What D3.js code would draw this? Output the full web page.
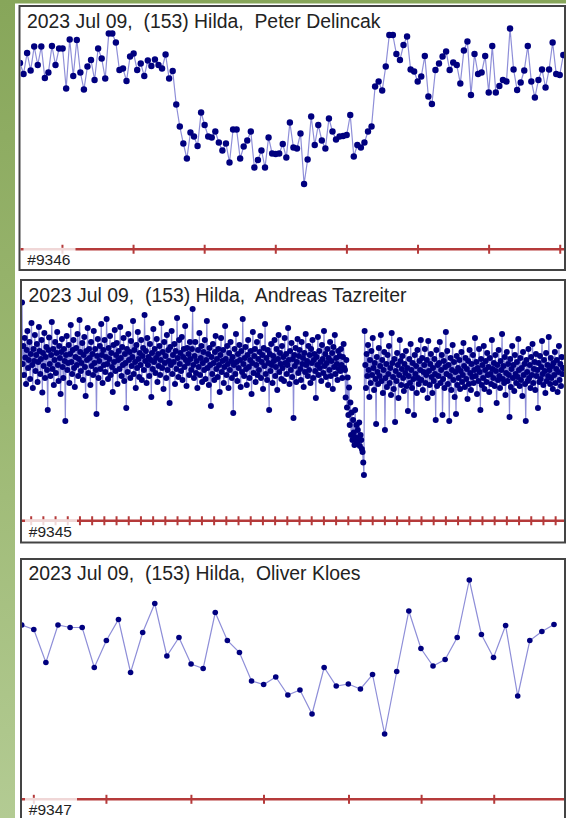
<!DOCTYPE html>
<html>
<head>
<meta charset="utf-8">
<script src="https://cdn.jsdelivr.net/npm/d3@7"></script>
<style>
  html, body { margin: 0; padding: 0; background: #fff; }
  svg { display: block; }
  text { white-space: pre; }
</style>
</head>
<body>
<svg id="chart" width="566" height="818"></svg>
<script>
// ---- Light-curve data (differential magnitude, mmag; larger = fainter) ----
const titles = [
  "2023 Jul 09,  (153) Hilda,  Peter Delincak",
  "2023 Jul 09,  (153) Hilda,  Andreas Tazreiter",
  "2023 Jul 09,  (153) Hilda,  Oliver Kloes"
];
const plotIds = ["#9346", "#9345", "#9347"];

const delincakMag = [
  86,108,66,101,53,90,53,116,105,52,90,57,57,137,39,112,40,105,139,93,
  80,120,57,77,117,27,27,45,100,97,122,73,67,100,87,112,81,92,79,90,
  97,69,117,102,169,213,247,277,225,233,252,185,210,233,235,223,245,261,247,285,
  219,219,277,253,241,223,295,280,261,295,235,267,268,267,248,275,205,255,257,227,
  328,279,193,250,210,241,257,197,223,239,233,232,230,190,273,250,255,245,223,213,
  133,123,141,93,30,30,68,80,50,33,99,103,123,113,72,153,168,100,87,73,
  63,100,85,90,127,61,43,150,68,108,105,72,145,52,145,132,120,123,17,99,
  140,125,101,52,123,155,120,99,135,99,45,108,110,70
];

const tazreiterMag = [
  // before the dip, first part
  25,148,112,170,96,135,188,120,82,156,140,104,178,128,66,150,196,118,142,90,
  162,130,108,184,144,74,122,168,138,100,205,126,152,86,176,134,114,160,240,120,
  95,148,172,130,64,158,118,190,140,104,166,126,84,150,182,112,136,208,124,98,
  154,176,118,142,262,130,92,160,146,110,186,128,70,144,168,120,100,156,194,134,
  116,150,88,172,138,60,124,162,146,106,180,130,94,154,212,122,140,76,166,118,
  136,190,104,152,128,170,82,146,118,160,248,132,98,176,142,112,158,68,130,186,
  120,150,100,164,134,58,148,178,116,138,92,170,126,154,204,110,144,80,162,130,
  106,188,140,122,158,74,136,172,114,150,96,182,128,146,236,118,164,88,140,124,
  176,102,152,134,62,168,120,144,196,110,156,84,138,174,126,150,100,180,132,116,
  160,50,142,122,186,96,150,134,172,108,140,214,126,158,78,144,118,166,136,98,
  184,128,152,112,170,140,66,156,124,198,104,146,132,176,90,160,120,142,226,114,
  150,82,168,130,144,108,188,122,158,56,136,174,100,148,126,162,94,180,134,118,
  154,72,140,192,116,146,128,170,104,138,
  // before the dip, second part
  160,118,38,150,176,132,104,166,142,196,120,154,86,170,136,112,184,146,124,160,
  100,178,140,62,156,128,190,116,150,232,134,168,108,146,180,124,92,158,138,174,
  118,150,204,130,96,164,142,120,186,154,72,138,170,112,148,196,126,160,104,142,
  176,134,246,150,118,168,88,144,182,128,156,110,140,194,122,164,58,148,172,136,
  114,158,190,130,100,154,176,140,122,208,146,84,166,132,118,184,150,104,170,138,
  160,124,92,176,144,130,198,116,152,68,168,136,180,120,146,240,128,162,108,150,
  186,132,142,100,172,154,118,200,138,90,164,126,148,178,112,156,134,182,96,146,
  128,168,150,76,140,188,122,160,106,174,138,256,130,152,116,184,144,98,166,132,
  120,158,180,104,148,136,194,126,164,88,150,142,172,112,160,130,186,118,146,100,
  176,140,128,162,216,134,150,94,170,122,156,144,182,110,138,166,82,152,128,174,
  146,118,190,136,160,104,172,142,126,198,114,154,90,168,136,148,180,122,158,132,
  162,118,150,176,134,108,156,
  // the dip
  160,215,140,235,175,250,195,270,225,290,245,300,260,285,310,240,295,270,305,280,
  300,265,312,290,300,318,324,345,370,
  // after the dip
  82,150,196,128,172,110,160,214,140,186,122,170,96,156,200,146,178,268,134,164,
  188,116,172,152,90,182,140,206,160,124,280,176,148,194,130,168,112,186,156,210,
  86,146,174,198,138,264,162,182,126,150,216,170,100,142,190,158,132,176,202,148,
  166,122,192,156,242,172,138,186,108,160,196,146,178,250,130,168,152,206,120,176,
  188,142,160,100,180,136,200,164,150,118,186,170,140,216,102,162,190,148,128,174,
  206,156,182,138,168,260,120,192,150,172,146,104,186,160,130,250,178,142,196,154,
  84,168,122,188,150,262,172,136,200,160,110,180,144,214,164,248,132,190,156,176,
  140,198,162,124,184,170,106,152,194,136,178,158,218,142,188,120,166,200,148,174,
  130,186,160,96,172,144,208,156,182,118,164,240,138,190,150,176,112,198,160,142,
  184,126,170,154,204,136,168,188,100,158,176,146,192,130,162,226,150,180,120,172,
  196,142,160,88,178,152,186,134,210,166,124,182,148,170,254,138,194,158,112,176,
  150,202,130,168,186,144,174,98,160,192,136,180,156,212,124,170,148,188,262,140,
  164,182,118,176,150,196,134,170,108,186,158,144,200,128,172,160,236,146,184,132,
  178,154,102,168,190,140,162,206,126,182,150,172,94,160,188,136,176,152,198,146,
  170,124,186,158,140,204,164,112,180,148,192,134,168,156
];

const kloesMag = [
  110,119,185,110,115,115,195,141,99,205,125,67,172,135,188,197,85,141,165,222,
  229,214,250,240,288,195,232,228,238,209,328,203,82,157,192,179,135,20,129,175,
  111,252,141,123,109
];

// Observation windows (UT hours, first and last frame) and time-axis ticks
const obsWindows = [[18.41, 26.05], [19.8815, 27.274], [19.84, 27.17]];
const delincakTicks = [19, 20, 21, 22, 23, 24, 25, 26];
const tazreiterTicks = d3.range(44).map(k => 20 + k / 6);   // every 10 minutes
const kloesTicks = [20, 21, 22.17, 23.17, 24.34, 25.34, 26.34];

const series = [delincakMag, tazreiterMag, kloesMag];
const tickSets = [delincakTicks, tazreiterTicks, kloesTicks];

// ---- Layout of the three stacked panels ----
const panels = [
  { left: 19.5, top: 6,   right: 565, bottom: 270,   x0: 20,   x1: 563.3, magTop: 14, axisY: 249.3, r: 3.2, titleY: 28.3,  labelY: 265 },
  { left: 21,   top: 280, right: 565, bottom: 542.5, x0: 22,   x1: 563,   magTop: 10, axisY: 520.7, r: 3.0, titleY: 301.7, labelY: 536.7 },
  { left: 21,   top: 559, right: 565, bottom: 822,   x0: 21.7, x1: 554,   magTop: 11, axisY: 799.3, r: 2.8, titleY: 579.5, labelY: 815 }
];

const svg = d3.select("#chart");
const W = 566, H = 818;

// Page background: green frame with white content area
const defs = svg.append("defs");
const grad = defs.append("linearGradient").attr("id", "bg").attr("x1", 0).attr("y1", 0).attr("x2", 0).attr("y2", 1);
grad.append("stop").attr("offset", "0%").attr("stop-color", "#87a65a");
grad.append("stop").attr("offset", "50%").attr("stop-color", "#9cb872");
grad.append("stop").attr("offset", "100%").attr("stop-color", "#b3cb93");
svg.append("rect").attr("width", W).attr("height", H).attr("fill", "url(#bg)");
svg.append("rect").attr("x", 15).attr("y", 3.5).attr("width", W - 15).attr("height", H).attr("fill", "#ffffff");

const font = "'Liberation Sans', Arial, sans-serif";

panels.forEach((p, k) => {
  const g = svg.append("g");
  const data = series[k];
  const [t0, t1] = obsWindows[k];

  const x = d3.scaleLinear().domain([t0, t1]).range([p.x0, p.x1]);
  const y = d3.scaleLinear().domain([0, 500]).range([p.top + p.magTop, p.top + p.magTop + 250]);
  const times = data.map((_, i) => t0 + (t1 - t0) * i / (data.length - 1));

  // Panel frame
  g.append("rect")
    .attr("x", p.left).attr("y", p.top)
    .attr("width", p.right - p.left).attr("height", p.bottom - p.top)
    .attr("fill", "#ffffff").attr("stroke", "#444444").attr("stroke-width", 2);

  const clipId = "clip" + k;
  defs.append("clipPath").attr("id", clipId).append("rect")
    .attr("x", p.left + 1).attr("y", p.top + 1)
    .attr("width", p.right - p.left - 2).attr("height", p.bottom - p.top - 2);
  const inner = g.append("g").attr("clip-path", `url(#${clipId})`);

  // Time axis with tick marks
  const axis = d3.axisBottom(x).tickValues(tickSets[k]).tickSize(0).tickFormat("");
  const axG = inner.append("g").attr("transform", `translate(0,${p.axisY})`).call(axis);
  axG.select(".domain").remove();
  inner.append("line")
    .attr("x1", p.left).attr("x2", p.right)
    .attr("y1", p.axisY).attr("y2", p.axisY)
    .attr("stroke", "#b53a3a").attr("stroke-width", 2.4);
  axG.selectAll(".tick line")
    .attr("y1", -4.5).attr("y2", 4.5)
    .attr("stroke", "#b53a3a").attr("stroke-width", 2);

  // Plot id box over the axis
  inner.append("rect")
    .attr("x", p.left + 4).attr("y", p.axisY - 1.5)
    .attr("width", 52).attr("height", p.bottom - p.axisY)
    .attr("fill", "#ffffff").attr("opacity", 0.8);
  inner.append("text")
    .attr("x", p.left + 7.8).attr("y", p.labelY)
    .attr("font-family", font).attr("font-size", 15.5)
    .attr("fill", "#222").text(plotIds[k]);

  // Title
  inner.append("text")
    .attr("x", p.left + 7.5).attr("y", p.titleY)
    .attr("font-family", font).attr("font-size", 19.4)
    .attr("fill", "#222").text(titles[k]);

  // Light curve: connecting line then points
  const line = d3.line().x((d, i) => x(times[i])).y(d => y(d));
  inner.append("path").datum(data)
    .attr("d", line).attr("fill", "none")
    .attr("stroke", "#8e8ed8").attr("stroke-width", 1.2);
  inner.selectAll("circle").data(data).join("circle")
    .attr("cx", (d, i) => x(times[i])).attr("cy", d => y(d))
    .attr("r", p.r).attr("fill", "#00007f");
});
</script>
</body>
</html>
